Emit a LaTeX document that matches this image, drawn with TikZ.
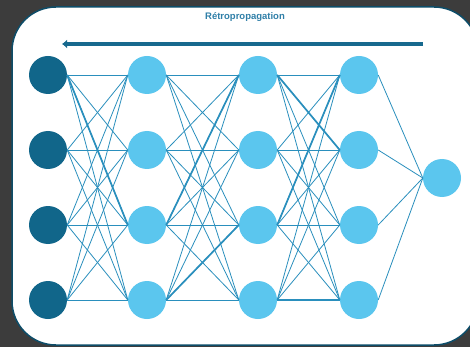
\documentclass[tikz,border=0pt]{standalone}
\usepackage{fontspec}
\setmainfont{Liberation Sans}
\usetikzlibrary{arrows.meta}

\definecolor{fond}{HTML}{3C3C3C}
\definecolor{bord}{HTML}{0D4D69}
\definecolor{entree}{HTML}{11668A}
\definecolor{cache}{HTML}{5BC6EE}
\definecolor{lien}{HTML}{2A8FBD}
\definecolor{retro}{HTML}{17698E}
\definecolor{titre}{HTML}{2F7FA8}

\begin{document}
\begin{tikzpicture}[
  x=1pt, y=-1pt,
  font=\bfseries\fontsize{9.5}{11}\selectfont,
  neur/.style={circle, minimum size=38pt, inner sep=0pt},
  inp/.style={neur, fill=entree},
  hid/.style={neur, fill=cache},
  syn/.style={lien, line width=0.8pt},
  fort/.style={syn, line width=1.7pt},
  arr/.style={-{Latex[length=5pt,width=9pt]}, retro, line width=4pt}
]
\useasboundingbox (0,0) rectangle (470,347);
\clip (0,0) rectangle (470,347);
\fill[fond] (0,0) rectangle (470,347);

% Cadre blanc
\draw[bord, line width=1.5pt, fill=white, rounded corners=44pt] (12,7) rectangle (478,345);

% Titre et flèche
\node[titre] (titre) at (245,17) {Rétropropagation};
\coordinate (debut) at (423,44);
\coordinate (fin) at (62,44);
\draw[arr] (debut) -- (fin);

% Couches
\foreach \c/\x in {1/48,2/147,3/258,4/359}
  \foreach \r/\y in {1/75,2/150,3/225,4/300}
    \coordinate (p-\c-\r) at (\x,\y);
\foreach \r in {1,...,4} {
  \node[inp] (n-1-\r) at (p-1-\r) {};
  \node[hid] (n-2-\r) at (p-2-\r) {};
  \node[hid] (n-3-\r) at (p-3-\r) {};
  \node[hid] (n-4-\r) at (p-4-\r) {};
}
\node[hid] (sortie) at (442,178) {};

% Connexions entre couches
\foreach \a/\b in {1/2,2/3,3/4}
  \foreach \i in {1,...,4}
    \foreach \j in {1,...,4}
      \draw[syn] (n-\a-\i.east) -- (n-\b-\j.west);

% Connexions plus marquées
\draw[fort] (n-1-1.east) -- (n-2-3.west);
\draw[fort] (n-2-3.east) -- (n-3-1.west);
\draw[fort] (n-2-4.east) -- (n-3-3.west);
\draw[fort] (n-3-1.east) -- (n-4-2.west);
\draw[fort] (n-3-3.east) -- (n-4-1.west);
\draw[fort] (n-3-4.east) -- (n-4-4.west);

% Vers la sortie
\foreach \i in {1,...,4}
  \draw[syn] (n-4-\i.east) -- (sortie.west);

\end{tikzpicture}
\end{document}
